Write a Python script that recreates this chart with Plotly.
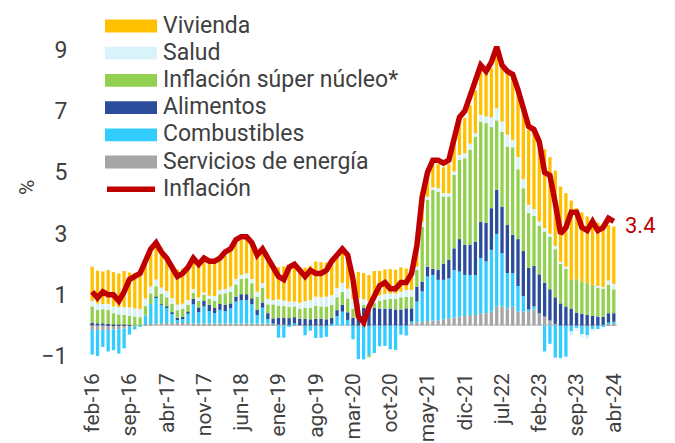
import plotly.graph_objects as go

months = [
    "feb-16","mar-16","abr-16","may-16","jun-16","jul-16","ago-16","sep-16","oct-16","nov-16","dic-16",
    "ene-17","feb-17","mar-17","abr-17","may-17","jun-17","jul-17","ago-17","sep-17","oct-17","nov-17","dic-17",
    "ene-18","feb-18","mar-18","abr-18","may-18","jun-18","jul-18","ago-18","sep-18","oct-18","nov-18","dic-18",
    "ene-19","feb-19","mar-19","abr-19","may-19","jun-19","jul-19","ago-19","sep-19","oct-19","nov-19","dic-19",
    "ene-20","feb-20","mar-20","abr-20","may-20","jun-20","jul-20","ago-20","sep-20","oct-20","nov-20","dic-20",
    "ene-21","feb-21","mar-21","abr-21","may-21","jun-21","jul-21","ago-21","sep-21","oct-21","nov-21","dic-21",
    "ene-22","feb-22","mar-22","abr-22","may-22","jun-22","jul-22","ago-22","sep-22","oct-22","nov-22","dic-22",
    "ene-23","feb-23","mar-23","abr-23","may-23","jun-23","jul-23","ago-23","sep-23","oct-23","nov-23","dic-23",
    "ene-24","feb-24","mar-24","abr-24",
]

tick_labels = ["feb-16","sep-16","abr-17","nov-17","jun-18","ene-19","ago-19","mar-20",
               "oct-20","may-21","dic-21","jul-22","feb-23","sep-23","abr-24"]

servicios_energia = [
    -0.15,-0.15,-0.15,-0.15,-0.13,-0.12,-0.10,-0.05,-0.03,0.00,0.03,
    0.05,0.07,0.07,0.08,0.08,0.08,0.08,0.08,0.06,0.06,0.06,0.06,
    0.06,0.06,0.06,0.06,0.06,0.06,0.06,0.06,0.06,0.06,0.06,0.05,
    0.03,0.03,0.02,0.02,0.00,-0.02,-0.02,-0.03,-0.02,-0.02,0.00,0.00,
    0.00,0.00,0.00,-0.02,-0.03,-0.02,0.00,0.00,0.00,0.00,0.00,0.00,
    0.00,0.09,0.09,0.12,0.14,0.16,0.16,0.20,0.23,0.26,0.29,0.31,
    0.34,0.34,0.40,0.40,0.45,0.62,0.62,0.55,0.62,0.45,0.45,0.49,
    0.53,0.40,0.29,0.16,0.05,0.00,-0.02,0.00,0.00,-0.03,-0.02,-0.02,
    0.00,0.03,0.06,0.06,
]

combustibles = [
    -0.80,-0.85,-0.55,-0.70,-0.68,-0.80,-0.65,-0.25,-0.10,-0.05,0.30,
    0.65,0.85,0.60,0.50,0.30,0.12,0.15,0.30,0.63,0.37,0.56,0.41,
    0.34,0.45,0.41,0.50,0.72,0.77,0.77,0.63,0.28,0.52,0.15,0.02,
    -0.40,-0.40,-0.05,0.05,0.00,-0.30,-0.15,-0.38,-0.38,-0.35,0.05,0.30,
    0.45,0.18,-0.45,-1.08,-1.08,-0.95,-0.90,-0.68,-0.67,-0.78,-0.80,-0.30,
    -0.33,0.05,0.69,0.99,1.46,1.49,1.33,1.29,1.31,1.55,1.47,1.34,
    1.31,1.31,1.80,1.69,2.02,2.37,1.74,1.16,1.09,0.84,0.51,0.04,
    0.09,0.00,-0.85,-0.60,-1.05,-1.07,-1.00,-0.20,-0.08,-0.25,-0.30,-0.10,
    -0.12,-0.05,0.04,0.06,
]

alimentos = [
    0.08,0.07,0.07,0.05,0.03,0.02,0.02,0.01,0.00,0.00,0.00,
    0.00,0.01,0.02,0.04,0.05,0.05,0.06,0.08,0.18,0.16,0.18,0.20,
    0.18,0.19,0.20,0.16,0.16,0.19,0.19,0.20,0.17,0.17,0.19,0.16,
    0.22,0.22,0.22,0.20,0.22,0.22,0.20,0.22,0.22,0.20,0.20,0.20,
    0.22,0.25,0.25,0.50,0.58,0.60,0.58,0.55,0.55,0.55,0.52,0.52,
    0.56,0.42,0.49,0.32,0.32,0.20,0.32,0.52,0.60,0.71,1.06,0.98,
    0.98,1.09,1.19,1.27,1.36,1.44,1.52,1.57,1.25,1.53,1.47,1.35,
    1.32,1.27,1.11,1.02,0.87,0.72,0.62,0.55,0.42,0.38,0.35,0.31,
    0.29,0.25,0.30,0.28,
]

super_nucleo = [
    0.54,0.44,0.46,0.46,0.37,0.34,0.32,0.30,0.29,0.27,0.30,
    0.35,0.35,0.35,0.30,0.28,0.25,0.25,0.22,0.20,0.21,0.20,0.20,
    0.22,0.32,0.38,0.38,0.40,0.50,0.52,0.49,0.43,0.49,0.29,0.46,
    0.40,0.38,0.36,0.35,0.32,0.35,0.38,0.42,0.40,0.42,0.42,0.42,
    0.42,0.45,0.30,0.22,0.10,-0.07,0.15,0.25,0.30,0.32,0.35,0.40,
    0.38,0.38,0.54,1.80,2.18,2.58,2.56,2.20,2.07,2.40,2.59,2.83,
    3.11,3.43,3.27,3.25,2.65,2.27,2.45,2.56,2.86,2.28,2.05,1.79,
    1.64,1.58,1.67,1.72,1.57,1.29,1.23,0.94,1.09,1.05,1.03,1.02,
    0.96,0.94,0.93,0.78,
]

salud = [
    0.18,0.21,0.17,0.19,0.22,0.24,0.26,0.28,0.27,0.26,0.25,
    0.22,0.22,0.20,0.20,0.18,0.18,0.17,0.15,0.12,0.11,0.08,0.10,
    0.16,0.14,0.14,0.17,0.18,0.13,0.16,0.14,0.16,0.14,0.18,0.14,
    0.20,0.18,0.18,0.16,0.20,0.22,0.25,0.30,0.30,0.32,0.32,0.30,
    0.30,0.32,0.32,0.18,0.18,0.20,0.20,0.18,0.18,0.17,0.17,0.18,
    0.22,0.22,0.11,0.16,0.11,0.08,0.11,0.11,0.11,0.11,0.16,0.17,
    0.20,0.11,0.22,0.22,0.32,0.40,0.33,0.39,0.24,0.40,0.30,0.27,
    0.22,0.14,0.11,0.10,0.11,0.07,0.07,-0.12,-0.10,-0.12,-0.12,-0.05,
    0.04,0.04,0.14,0.18,
]

vivienda = [
    1.12,1.07,1.06,1.11,1.12,1.10,1.18,1.14,1.16,1.17,1.15,
    1.20,1.15,1.15,1.10,1.10,1.15,1.15,1.15,1.00,1.07,1.07,1.08,
    1.05,1.00,1.08,1.14,1.17,1.14,1.15,1.11,1.16,1.14,1.22,1.04,
    1.05,1.12,1.15,1.12,1.15,1.10,1.12,1.15,1.15,1.12,1.10,1.10,
    1.10,1.10,0.85,0.85,0.85,0.85,0.85,0.80,0.80,0.80,0.78,0.80,
    0.70,0.65,0.62,0.65,0.70,0.75,0.80,0.85,0.95,1.00,1.05,1.15,
    1.25,1.40,1.45,1.45,1.60,1.85,1.90,2.05,2.13,2.30,2.37,2.45,
    2.53,2.40,2.58,2.50,2.46,2.46,2.40,2.59,2.32,2.26,2.18,2.12,
    2.07,2.05,1.81,1.87,
]

inflacion = [
    1.1,0.9,1.1,1.0,1.0,0.8,1.1,1.5,1.6,1.7,2.1,
    2.5,2.7,2.4,2.2,1.9,1.6,1.7,1.9,2.2,2.0,2.2,2.1,
    2.1,2.2,2.4,2.5,2.8,2.9,2.9,2.7,2.3,2.5,2.2,1.9,
    1.6,1.5,1.9,2.0,1.8,1.6,1.8,1.7,1.7,1.8,2.1,2.3,
    2.5,2.3,1.5,0.3,0.1,0.6,1.0,1.3,1.4,1.2,1.2,1.4,
    1.4,1.7,2.6,4.2,5.0,5.4,5.4,5.3,5.4,6.2,6.8,7.0,
    7.5,7.9,8.5,8.3,8.6,9.1,8.5,8.3,8.2,7.7,7.1,6.5,
    6.4,6.0,5.0,4.9,4.0,3.0,3.2,3.7,3.7,3.2,3.1,3.4,
    3.1,3.2,3.5,3.4,
]

series = [
    ("Servicios de energía", servicios_energia, "#A6A6A6"),
    ("Combustibles", combustibles, "#33CCFF"),
    ("Alimentos", alimentos, "#2B4C9B"),
    ("Inflación súper núcleo*", super_nucleo, "#92D050"),
    ("Salud", salud, "#D9F3FB"),
    ("Vivienda", vivienda, "#FFC000"),
]

fig = go.Figure()
for name, vals, col in series:
    fig.add_bar(x=months, y=vals, name=name,
                marker=dict(color=col, line=dict(width=0)), showlegend=False)
fig.add_scatter(x=months, y=inflacion, mode="lines", name="Inflación",
                line=dict(color="#C00000", width=5.5), showlegend=False)

# page is shown with an 8px body offset; layout numbers below are in figure pixels
OFF = 8
W, H = 675, 443
L, R, T, B = 81, 66, 0, 83
pw, ph = W - L - R, H - T - B

def px(xpage):
    return (xpage - OFF - L) / pw

def py(ypage):
    return (H - B - (ypage - OFF)) / ph

legend_items = [
    ("Vivienda", "#FFC000", "bar"),
    ("Salud", "#D9F3FB", "bar"),
    ("Inflación súper núcleo*", "#92D050", "bar"),
    ("Alimentos", "#2B4C9B", "bar"),
    ("Combustibles", "#33CCFF", "bar"),
    ("Servicios de energía", "#A6A6A6", "bar"),
    ("Inflación", "#C00000", "line"),
]
shapes = []
annotations = []
for i, (lab, col, kind) in enumerate(legend_items):
    c = 26.0 + 27.2 * i
    if kind == "bar":
        shapes.append(dict(type="rect", xref="paper", yref="paper",
                           x0=px(105), x1=px(157), y0=py(c + 6.4), y1=py(c - 6.4),
                           fillcolor=col, line=dict(width=0)))
    else:
        shapes.append(dict(type="line", xref="paper", yref="paper",
                           x0=px(107), x1=px(155), y0=py(c), y1=py(c),
                           line=dict(color=col, width=5.5)))
    annotations.append(dict(text=lab, xref="paper", yref="paper", x=px(161), y=py(c - 1),
                            xanchor="left", yanchor="middle", showarrow=False,
                            font=dict(size=23, color="#404040")))

annotations.append(dict(text="%", xref="paper", yref="paper", x=px(27), y=py(188),
                        textangle=-90, showarrow=False, xanchor="center", yanchor="middle",
                        font=dict(size=21, color="#404040")))
annotations.append(dict(text="3.4", x=months[-1], y=inflacion[-1], xref="x", yref="y",
                        xanchor="left", yanchor="middle", xshift=9, yshift=-4,
                        showarrow=False, font=dict(size=22, color="#C00000")))

fig.update_layout(
    width=W, height=H,
    margin=dict(l=L, r=R, t=T, b=B, pad=0, autoexpand=False),
    paper_bgcolor="white", plot_bgcolor="white",
    barmode="relative", bargap=0.38,
    font=dict(family="Roboto, Arial, sans-serif", color="#404040"),
    shapes=shapes, annotations=annotations,
    showlegend=False,
)
fig.update_xaxes(type="category", range=[-0.6, 98.6], tickmode="array",
                 tickvals=tick_labels, ticktext=tick_labels, tickangle=-90,
                 tickfont=dict(size=21, color="#404040"), showgrid=False,
                 showline=False, ticks="", zeroline=False, automargin=False)
fig.update_yaxes(range=[-1.39, 10.37], tickmode="array", tickvals=[-1, 1, 3, 5, 7, 9],
                 tickfont=dict(size=23, color="#404040"), showgrid=False,
                 zeroline=True, zerolinecolor="#D9D9D9", zerolinewidth=2,
                 ticks="outside", ticklen=16, tickcolor="rgba(0,0,0,0)", showline=False,
                 automargin=False)

fig.write_html("out.html")
